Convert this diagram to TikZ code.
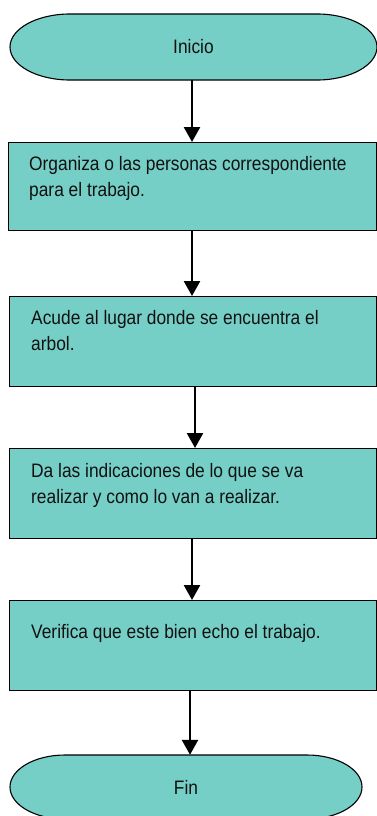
\documentclass[tikz,border=0pt]{standalone}
\usepackage{fontspec}
\setmainfont{Liberation Sans}[FakeStretch=0.89]
\usetikzlibrary{arrows.meta}
\definecolor{tealfill}{RGB}{118,207,199}
\definecolor{inktext}{RGB}{17,17,17}
\begin{document}
\begin{tikzpicture}[x=1pt,y=-1pt,
  shapeline/.style={draw=black,fill=tealfill,line width=1.1pt},
  procbox/.style={shapeline,anchor=north west,inner sep=0pt},
  termnode/.style={inner sep=0pt,text=inktext,font=\fontsize{19.5}{26}\selectfont},
  txt/.style={inner sep=0pt,align=left,anchor=base west,text=inktext,font=\fontsize{19.5}{26}\selectfont},
  arr/.style={line width=2.6pt,-{Triangle[width=16pt,length=15pt]}}]
\useasboundingbox (0,0) rectangle (377,816);
\fill[white] (0,0) rectangle (377,816);
\clip (0,0) rectangle (377,816);
% start terminal
\draw[shapeline] (70,14) -- (317,14) arc[start angle=-90,end angle=90,x radius=60,y radius=33]
  -- (70,80) arc[start angle=90,end angle=270,x radius=60,y radius=33] -- cycle;
\node[termnode,minimum width=367pt,minimum height=66pt] (inicio) at (193.5,47) {Inicio};
% process boxes
\node[procbox,minimum width=368pt,minimum height=88pt] (b1) at (8,142) {};
\node[procbox,minimum width=367pt,minimum height=90pt] (b2) at (9,296) {};
\node[procbox,minimum width=367pt,minimum height=90pt] (b3) at (9,448) {};
\node[procbox,minimum width=367pt,minimum height=90pt] (b4) at (9,600) {};
% base anchor of a two-line node is the baseline of its last line
\node[txt] (t1) at (29,196) {Organiza o las personas correspondiente\\para el trabajo.};
\node[txt] (t2) at (31,350) {Acude al lugar donde se encuentra el\\arbol.};
\node[txt] (t3) at (31,503) {Da las indicaciones de lo que se va\\realizar y como lo van a realizar.};
\node[txt] (t4) at (31,638) {Verifica que este bien echo el trabajo.};
% end terminal
\draw[shapeline] (65,755) -- (307,755) arc[start angle=-90,end angle=90,x radius=55,y radius=32]
  -- (65,819) arc[start angle=90,end angle=270,x radius=55,y radius=32] -- cycle;
\node[termnode,minimum width=352pt,minimum height=64pt] (fin) at (186,787) {Fin};
% connectors
\coordinate (xa) at (192,0);
\coordinate (xb) at (195,0);
\coordinate (xc) at (190,0);
\draw[arr] (inicio.south -| xa) -- (b1.north -| xa);
\draw[arr] (b1.south -| xa) -- (b2.north -| xa);
\draw[arr] (b2.south -| xb) -- (b3.north -| xb);
\draw[arr] (b3.south -| xa) -- (b4.north -| xa);
\draw[arr] (b4.south -| xc) -- (fin.north -| xc);
\end{tikzpicture}
\end{document}
